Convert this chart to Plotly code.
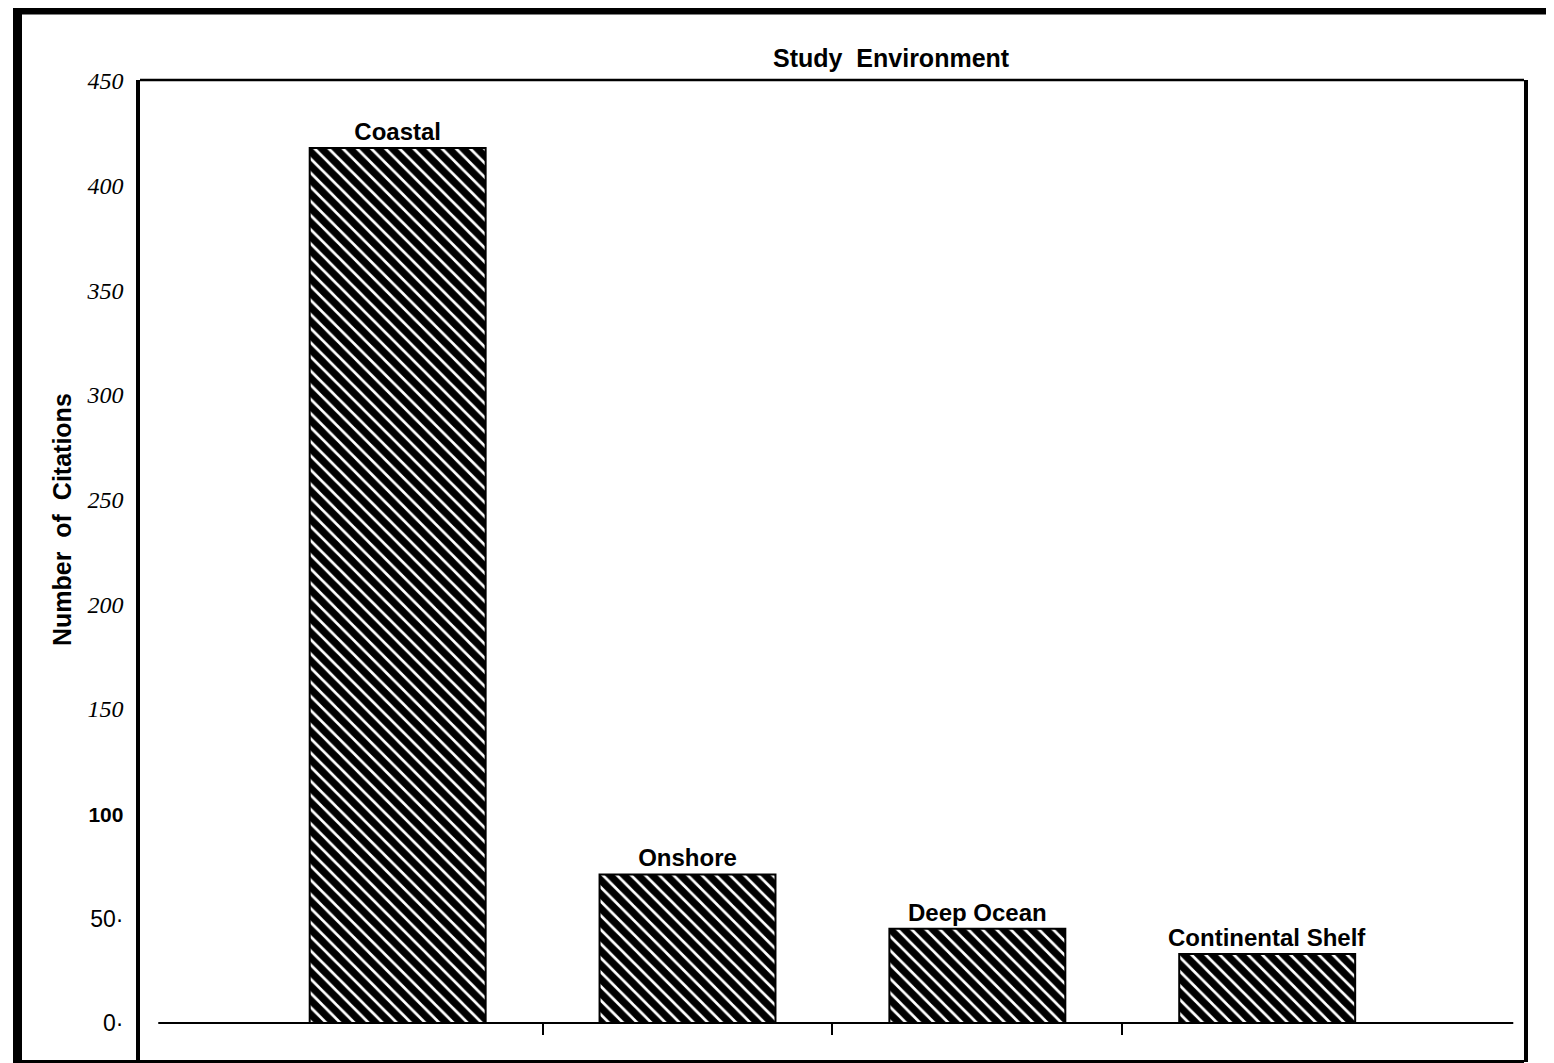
import plotly.graph_objects as go

# Data
categories = ['Coastal', 'Onshore', 'Deep Ocean', 'Continental Shelf']
citations = [418, 71, 45, 33]

y_tick_vals = [0, 50, 100, 150, 200, 250, 300, 350, 400, 450]
y_tick_text = [
    '<span style="font-family:Liberation Sans;font-size:23px">0·</span>',
    '<span style="font-family:Liberation Sans;font-size:23px">50·</span>',
    '<span style="font-family:Liberation Sans;font-size:21px"><b>100</b></span>',
    '<i>150</i>', '<i>200</i>', '<i>250</i>', '<i>300</i>',
    '<i>350</i>', '<i>400</i>', '<i>450</i>',
]
x_tick_vals = [0.5, 1.5, 2.5]

W, H = 1554, 1063
OFF = 8  # page body margin
# plot area in screen pixels
L, R, T, B = 140, 1524, 80, 1062


def fx(px):
    """Screen x to paper x."""
    return (px - L) / (R - L)


def fy(py):
    """Screen y to paper y."""
    return (B - py) / (B - T)


fig = go.Figure()

fig.add_trace(go.Bar(
    x=list(range(len(categories))),
    y=citations,
    text=categories,
    textposition='outside',
    constraintext='none',
    textfont=dict(family='Liberation Sans', size=24, color='black', weight='bold'),
    cliponaxis=False,
    width=0.607,
    marker=dict(
        color='white',
        line=dict(color='black', width=2),
        pattern=dict(shape='\\', fgcolor='black', bgcolor='white',
                     fgopacity=1, size=10, solidity=0.72),
    ),
    showlegend=False,
))

# baseline at zero
fig.add_shape(type='line', xref='x', yref='y', x0=-0.826, x1=3.849, y0=0, y1=0,
              line=dict(color='black', width=2))

# frame lines (screen px)
frame = [
    (17.5, 4, 17.5, 1063, 9),       # outer left
    (13, 10, 1552, 10, 9),          # outer top
    (13, 1061.5, 1524, 1061.5, 3),  # outer bottom
    (L, T, R, T, 2.5),              # inner top
]
for x0, y0, x1, y1, w in frame:
    fig.add_shape(type='line', xref='paper', yref='paper',
                  x0=fx(x0), y0=fy(y0), x1=fx(x1), y1=fy(y1),
                  line=dict(color='black', width=w))

fig.add_annotation(
    text='<b>Study  Environment</b>', xref='paper', yref='paper',
    x=fx(891), y=fy(58), xanchor='center', yanchor='middle', showarrow=False,
    font=dict(family='Liberation Sans', size=25, color='black'),
)
fig.add_annotation(
    text='<b>Number  of  Citations</b>', xref='paper', yref='paper',
    x=fx(62), y=fy(520), xanchor='center', yanchor='middle',
    showarrow=False, textangle=-90,
    font=dict(family='Liberation Sans', size=25, color='black'),
)

zero_pos = fy(1023)
fig.update_layout(
    width=W, height=H,
    margin=dict(l=L - OFF, r=W - (R - OFF), t=T - OFF, b=H - (B - OFF)),
    paper_bgcolor='white', plot_bgcolor='white',
    xaxis=dict(
        range=[-0.889, 3.886], anchor='free', position=zero_pos,
        tickvals=x_tick_vals, showticklabels=False,
        ticks='outside', ticklen=11, tickwidth=2, tickcolor='black',
        showgrid=False, zeroline=False, showline=False,
    ),
    yaxis=dict(
        range=[-18.6, 450.5],
        tickvals=y_tick_vals, ticktext=y_tick_text,
        tickfont=dict(family='Liberation Serif', size=24, color='black'),
        ticks='outside', ticklen=8, tickcolor='white',
        showgrid=False, zeroline=False,
        showline=True, mirror=True, linecolor='black', linewidth=3.5,
    ),
)

fig.write_html("out.html")
